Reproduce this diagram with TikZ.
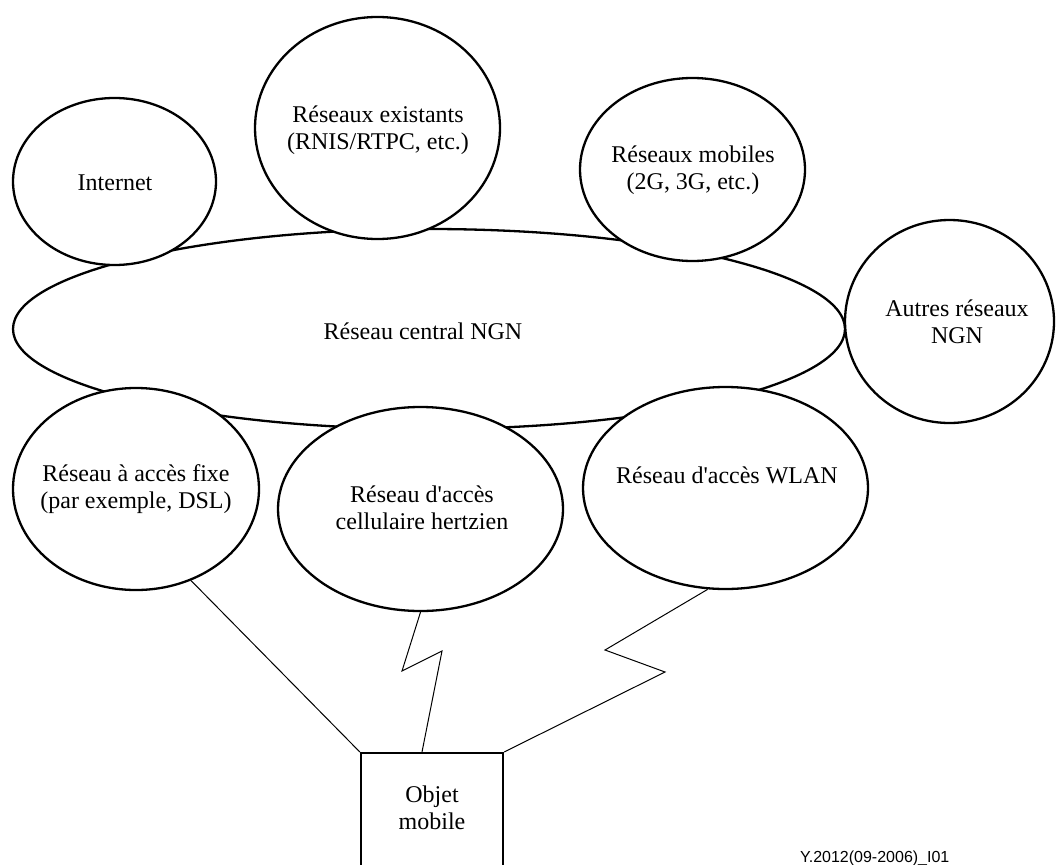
\documentclass[tikz,border=0pt]{standalone}
\usepackage{fontspec}
% no TeX ligature mapping, so ' stays a straight apostrophe
\setmainfont{Liberation Serif}[Ligatures=TeXOff]
\newfontfamily\figidfont{Liberation Sans}
\usetikzlibrary{shapes.geometric,calc}

\tikzset{
  net/.style={ellipse, draw, line width=2.3pt, fill=white, inner sep=0pt},
  termbox/.style={rectangle, draw, line width=2.3pt, fill=white, inner sep=0pt,
                  minimum width=142pt, minimum height=200pt, anchor=north},
  lbl/.style={font=\fontsize{24}{27}\selectfont, align=center, inner sep=0pt},
  figid/.style={font=\figidfont\fontsize{16}{18}\selectfont, inner sep=0pt, anchor=base west},
  link/.style={line width=1pt, line join=miter}
}

\begin{document}
\begin{tikzpicture}[x=1pt, y=-1pt]
  \useasboundingbox (0,0) rectangle (1056,864);
  \clip (0,0) rectangle (1056,864);

  % core network, then the surrounding networks drawn over it
  \node[net, minimum width=832pt, minimum height=200pt] (core) at (429,329) {};
  \node[net, minimum width=203pt, minimum height=167pt] (inet) at (114.5,181.5) {};
  \node[net, minimum width=245pt, minimum height=222pt] (legacy) at (377.5,128) {};
  \node[net, minimum width=225pt, minimum height=183pt] (mob) at (692.5,169.5) {};
  \node[net, minimum width=209pt, minimum height=203pt] (other) at (949.5,321.5) {};
  \node[net, minimum width=246pt, minimum height=202pt] (fixed) at (136,489) {};
  \node[net, minimum width=285pt, minimum height=204pt] (cell) at (420.5,509) {};
  \node[net, minimum width=285pt, minimum height=202pt] (wlan) at (725.5,488) {};

  % mobile terminal
  \node[termbox] (term) at (432,752) {};

  % labels
  \node[lbl, anchor=base] (inet-t) at (115,190) {Internet};
  \node[lbl] (legacy-t) at (378,129.8) {Réseaux existants\\(RNIS/RTPC, etc.)};
  \node[lbl] (mob-t) at (693,170.3) {Réseaux mobiles\\(2G, 3G, etc.)};
  \node[lbl] (other-t) at (957,321.6) {Autres réseaux\\NGN};
  \node[lbl, anchor=base] (core-t) at (423,339) {Réseau central NGN};
  \node[lbl] (fixed-t) at (136,489.3) {Réseau à accès fixe\\(par exemple, DSL)};
  \node[lbl] (cell-t) at (422,508.1) {Réseau d'accès\\cellulaire hertzien};
  \node[lbl, anchor=base] (wlan-t) at (727,483) {Réseau d'accès WLAN};
  \node[lbl] (term-t) at (432,807.8) {Objet\\mobile};

  % access links
  \draw[link] (fixed.-59.3) -- (term.north west);

  \coordinate (c1) at (402,671);
  \coordinate (c2) at (442,651);
  \draw[link] (cell.south) -- (c1) -- (c2) -- ($(term.north)+(-10,0)$);

  \coordinate (w1) at (605,650);
  \coordinate (w2) at (665,672);
  \draw[link] (wlan.-100.3) -- (w1) -- (w2) -- (term.north east);

  \node[figid] (fig-id) at (800,862) {Y.2012(09-2006)\_I01};
\end{tikzpicture}
\end{document}
